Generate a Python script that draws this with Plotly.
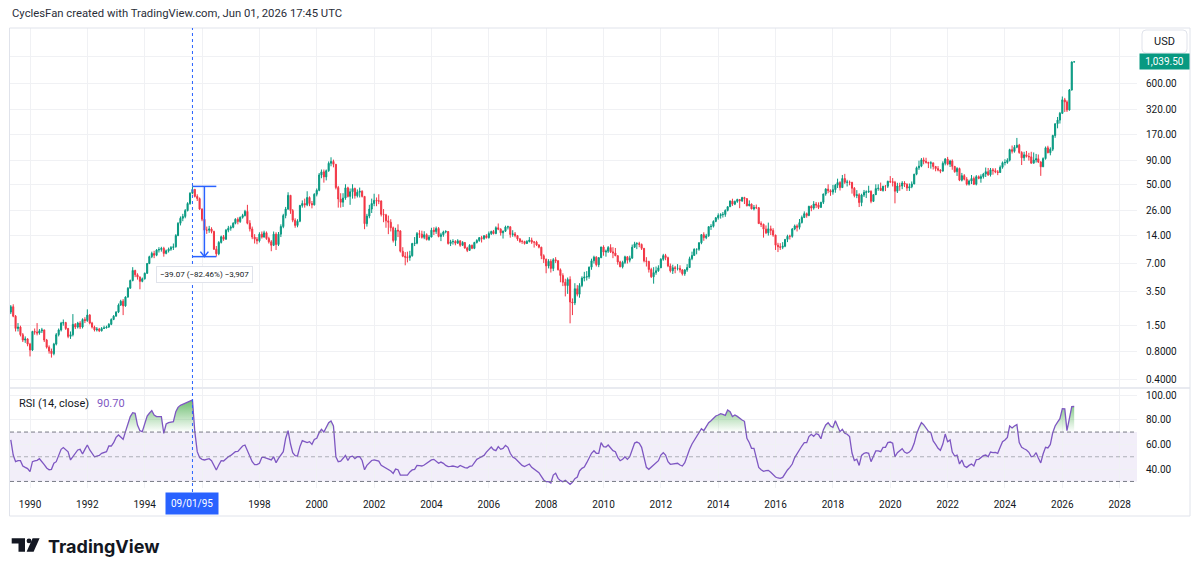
import numpy as np
import pandas as pd
import plotly.graph_objects as go

# ---------------- data (monthly, May 1989 .. Jun 2026) ----------------
start_month = "1989-05-01"
first_open = 2.1

close = [
    2.4, 1.9, 1.4, 1.45, 1.2, 1.05, 1.08, 0.95,
    0.82, 1.3, 1.28, 1.25, 1.32, 1.35, 1.05, 0.88, 0.8, 0.75, 0.95, 1.2,
    1.35, 1.6, 1.62, 1.4, 1.15, 1.2, 1.55, 1.45, 1.6, 1.45, 1.75, 1.7,
    1.95, 1.6, 1.45, 1.35, 1.38, 1.32, 1.4, 1.42, 1.45, 1.55, 1.75, 1.9,
    2.1, 2.5, 2.75, 2.45, 3.05, 3.8, 4.6, 5.9, 5.3, 5.0, 4.5, 4.8,
    5.5, 7.0, 8.3, 9.0, 8.6, 9.8, 9.9, 10.2, 9.0, 9.6, 10.0, 10.4,
    10.6, 14.0, 19.0, 21.5, 22.5, 26.0, 31.0, 40.0, 44.0, 37.0, 35.0, 27.0,
    21.0, 16.0, 16.0, 16.5, 15.5, 10.0, 8.9, 11.8, 13.6, 12.8, 16.0, 16.8,
    17.2, 19.0, 21.0, 19.8, 22.0, 23.0, 25.5, 19.0, 16.5, 13.5, 12.8, 12.3,
    14.5, 13.5, 15.0, 13.0, 12.0, 11.0, 14.5, 11.2, 14.5, 17.5, 23.0, 27.0,
    38.0, 26.0, 20.5, 18.0, 20.0, 29.5, 31.0, 30.0, 36.0, 31.0, 30.0, 39.0,
    43.0, 63.0, 68.0, 60.0, 70.0, 84.0, 88.0, 82.0, 46.0, 34.7, 32.0, 35.5,
    45.7, 37.0, 41.5, 45.0, 37.6, 41.0, 42.0, 37.0, 18.8, 22.7, 27.0, 31.0,
    33.5, 33.0, 33.0, 23.7, 23.4, 20.2, 19.5, 17.0, 12.4, 16.0, 15.7, 9.5,
    8.4, 8.2, 8.1, 8.5, 11.5, 11.6, 14.7, 14.5, 13.4, 14.3, 12.7, 13.5,
    16.0, 15.5, 16.7, 13.7, 14.3, 15.3, 15.5, 11.5, 12.0, 12.1, 11.6, 12.3,
    11.0, 11.8, 10.3, 9.7, 11.0, 10.2, 11.8, 12.4, 13.3, 13.0, 13.9, 13.3,
    14.7, 15.5, 14.7, 17.0, 16.4, 15.0, 15.6, 17.3, 17.4, 14.4, 14.6, 14.0,
    12.9, 12.1, 12.1, 11.5, 12.1, 12.5, 11.9, 11.9, 11.1, 10.5, 8.5, 7.8,
    6.6, 7.4, 6.2, 7.7, 7.5, 6.0, 5.2, 4.4, 4.05, 4.72, 2.7, 2.64,
    3.75, 3.27, 4.06, 4.88, 5.0, 5.06, 6.4, 7.5, 8.2, 6.8, 8.1, 10.56,
    9.3, 9.5, 10.4, 9.35, 9.1, 8.5, 7.28, 6.45, 7.2, 8.27, 7.6, 8.0,
    10.5, 11.4, 11.47, 11.25, 10.2, 7.48, 7.37, 6.04, 5.04, 5.59, 5.85, 6.29,
    7.78, 8.53, 8.1, 6.6, 5.84, 6.31, 6.2, 6.22, 5.98, 5.43, 5.97, 6.34,
    7.9, 8.55, 9.98, 9.98, 11.7, 14.33, 13.3, 13.9, 17.47, 17.6, 19.9, 21.75,
    23.03, 23.5, 23.66, 26.12, 28.6, 32.95, 30.52, 32.6, 34.26, 33.06, 35.94, 35.01,
    29.3, 30.5, 27.13, 28.13, 27.94, 18.84, 18.51, 16.41, 14.98, 16.56, 15.92, 14.16,
    11.03, 10.63, 10.47, 10.75, 12.74, 13.76, 13.75, 16.47, 17.78, 17.16, 19.31, 21.92,
    24.11, 23.06, 28.9, 27.67, 30.62, 29.86, 28.12, 31.98, 39.33, 44.31, 42.63, 41.12,
    43.72, 48.82, 52.14, 45.98, 57.59, 52.44, 52.79, 52.39, 45.23, 37.72, 38.53, 31.73,
    38.22, 40.91, 41.33, 42.02, 32.69, 38.59, 44.89, 45.27, 42.85, 47.55, 47.51, 53.78,
    53.09, 52.48, 42.06, 47.89, 47.87, 51.52, 50.06, 45.52, 46.96, 50.34, 64.11, 75.18,
    78.28, 91.47, 88.21, 86.07, 84.1, 84.98, 77.57, 73.66, 70.98, 69.1, 84.0, 93.15,
    82.25, 88.83, 77.89, 68.19, 73.84, 55.28, 61.86, 56.53, 50.1, 54.11, 57.65, 49.98,
    60.3, 57.8, 60.34, 64.36, 68.22, 63.11, 71.39, 69.96, 68.03, 66.87, 76.14, 85.34,
    85.74, 90.62, 117.89, 112.98, 125.0, 131.53, 109.71, 96.16, 103.71, 99.68, 98.62, 84.16,
    91.25, 93.92, 86.89, 76.95, 94.46, 123.25, 109.14, 119.02, 167.32, 223.77, 245.0, 290.0,
    405.0, 385.0, 315.0, 517.0, 1035.0, 1039.5,
]

high = [
    2.5, 2.55, 1.95, 1.6, 1.5, 1.25, 1.15, 1.1,
    0.98, 1.32, 1.4, 1.6, 1.38, 1.42, 1.36, 1.08, 0.92, 0.85, 0.98, 1.25,
    1.4, 1.65, 1.75, 1.65, 1.42, 1.3, 2.0, 1.6, 1.65, 1.68, 1.8, 1.85,
    2.25, 2.0, 1.65, 1.5, 1.45, 1.42, 1.45, 1.5, 1.5, 1.6, 1.8, 1.95,
    2.15, 2.6, 2.85, 2.9, 3.1, 3.9, 4.7, 6.4, 6.0, 5.5, 5.1, 4.95,
    5.6, 7.1, 8.5, 9.4, 9.6, 10.0, 10.5, 10.6, 10.6, 9.9, 10.4, 10.8,
    11.5, 14.5, 19.5, 22.5, 24.0, 27.0, 32.0, 41.0, 47.38, 44.5, 39.0, 36.0,
    27.5, 22.0, 17.5, 17.8, 17.2, 15.8, 10.8, 12.2, 14.0, 14.2, 16.5, 17.8,
    18.0, 19.5, 21.5, 22.0, 22.5, 24.0, 26.5, 30.0, 20.5, 17.5, 14.5, 13.5,
    15.2, 15.5, 15.8, 15.5, 13.6, 12.5, 15.5, 15.2, 15.3, 18.5, 24.0, 28.5,
    41.0, 38.0, 27.0, 21.5, 21.0, 30.0, 33.5, 35.0, 42.0, 37.0, 33.0, 40.0,
    45.0, 66.0, 72.0, 72.0, 72.0, 88.0, 97.5, 92.0, 82.0, 48.0, 40.0, 40.0,
    50.0, 47.0, 45.0, 50.0, 46.0, 44.0, 46.0, 43.0, 37.0, 24.0, 30.0, 35.0,
    39.5, 36.0, 39.0, 33.5, 27.0, 24.0, 23.0, 21.0, 17.5, 17.0, 18.5, 16.0,
    10.5, 9.3, 9.4, 9.6, 11.7, 13.5, 15.3, 16.0, 15.8, 15.6, 14.8, 14.2,
    17.0, 17.2, 17.5, 17.3, 15.0, 15.8, 16.0, 15.6, 12.6, 12.8, 12.5, 12.8,
    12.4, 12.2, 11.9, 10.6, 11.3, 11.2, 12.0, 12.8, 13.5, 13.9, 14.2, 14.5,
    15.5, 15.8, 16.1, 17.6, 18.9, 16.8, 15.9, 17.9, 17.9, 17.6, 16.0, 15.3,
    14.0, 13.2, 12.6, 12.3, 12.5, 13.5, 13.3, 12.2, 12.3, 11.3, 10.6, 8.8,
    7.9, 7.8, 7.8, 8.0, 8.2, 7.6, 6.2, 5.5, 4.8, 4.95, 5.1, 2.95,
    4.3, 4.1, 4.3, 5.1, 5.7, 5.8, 6.5, 7.9, 8.5, 8.4, 8.2, 10.6,
    11.0, 9.9, 10.8, 11.3, 10.5, 10.3, 8.6, 7.5, 7.5, 8.5, 8.4, 8.5,
    11.2, 12.0, 11.9, 12.0, 11.5, 10.3, 8.2, 7.5, 6.3, 6.4, 6.5, 6.7,
    8.0, 8.9, 8.9, 8.3, 7.0, 6.8, 6.6, 6.9, 6.7, 6.1, 6.1, 6.9,
    8.3, 9.4, 10.2, 10.1, 11.9, 14.5, 15.2, 14.6, 17.6, 18.6, 20.4, 22.2,
    24.3, 24.4, 25.1, 26.8, 28.9, 33.4, 34.9, 33.4, 34.9, 34.6, 36.6, 36.6,
    35.2, 33.5, 31.0, 29.9, 30.2, 28.4, 19.9, 18.8, 18.0, 19.3, 17.9, 16.8,
    14.3, 11.7, 11.6, 11.9, 12.8, 14.3, 14.3, 16.9, 18.4, 18.5, 21.1, 23.0,
    25.5, 24.8, 29.3, 29.8, 32.9, 32.2, 31.9, 32.3, 39.4, 45.3, 49.9, 44.0,
    49.3, 50.4, 57.4, 53.9, 62.9, 64.66, 55.8, 54.8, 53.0, 46.6, 43.2, 40.0,
    39.5, 43.4, 42.9, 48.2, 42.9, 39.0, 49.9, 49.9, 52.1, 48.1, 48.9, 54.5,
    61.2, 58.3, 54.3, 51.8, 51.9, 54.0, 53.9, 51.0, 50.9, 53.6, 64.7, 77.5,
    89.7, 95.7, 96.96, 96.4, 87.0, 88.5, 85.0, 78.7, 78.4, 72.5, 88.2, 95.7,
    98.45, 91.6, 92.5, 78.2, 76.4, 75.5, 66.2, 64.2, 59.6, 56.0, 62.8, 60.5,
    62.7, 62.2, 63.8, 66.3, 75.6, 74.8, 74.8, 74.7, 74.3, 71.0, 79.6, 87.9,
    92.8, 95.2, 120.5, 130.5, 131.9, 157.54, 136.0, 113.4, 111.7, 114.0, 108.9, 111.8,
    109.9, 106.0, 104.5, 88.5, 97.3, 127.3, 129.8, 124.8, 170.4, 226.0, 265.0, 300.0,
    440.0, 425.0, 400.0, 530.0, 1050.0, 1045.0,
]

low = [
    2.0, 1.85, 1.3, 1.3, 1.15, 1.0, 0.98, 0.9,
    0.7, 0.8, 1.2, 1.18, 1.2, 1.25, 1.0, 0.85, 0.75, 0.68, 0.72, 0.92,
    1.15, 1.3, 1.5, 1.35, 1.1, 1.08, 1.15, 1.38, 1.4, 1.38, 1.4, 1.6,
    1.65, 1.55, 1.4, 1.3, 1.3, 1.28, 1.3, 1.38, 1.4, 1.42, 1.52, 1.72,
    1.88, 2.05, 2.45, 1.95, 2.4, 3.0, 3.75, 4.5, 5.0, 4.7, 3.7, 4.4,
    4.7, 5.4, 6.9, 8.0, 8.0, 8.4, 9.2, 9.4, 8.3, 8.8, 9.2, 9.6,
    9.8, 10.4, 13.8, 18.0, 20.0, 21.5, 25.5, 30.0, 39.0, 36.0, 33.0, 26.5,
    20.0, 15.5, 14.6, 15.0, 14.8, 9.8, 8.31, 8.6, 11.5, 12.3, 12.6, 15.2,
    15.8, 16.8, 18.5, 18.5, 19.2, 21.3, 22.5, 18.5, 15.5, 12.8, 11.5, 11.3,
    11.8, 13.0, 13.3, 12.6, 11.5, 9.5, 10.8, 9.8, 10.8, 13.5, 16.8, 21.5,
    26.5, 24.0, 19.5, 17.0, 17.2, 19.5, 28.0, 28.0, 29.0, 29.0, 27.5, 29.5,
    37.0, 42.0, 58.0, 52.0, 55.0, 68.0, 78.0, 76.0, 44.0, 28.0, 28.0, 28.5,
    34.0, 36.0, 30.0, 35.0, 35.0, 36.0, 36.0, 36.0, 16.4, 17.5, 21.5, 24.5,
    29.0, 29.0, 30.5, 22.5, 19.5, 17.0, 14.5, 15.5, 11.8, 10.8, 13.5, 9.2,
    8.2, 6.7, 7.2, 7.5, 8.3, 10.8, 11.3, 13.2, 13.0, 12.8, 12.4, 12.3,
    13.4, 14.2, 14.6, 13.4, 12.2, 13.6, 14.8, 11.2, 10.8, 11.2, 11.0, 11.4,
    10.6, 10.8, 10.1, 9.3, 9.6, 10.0, 10.0, 11.5, 12.0, 11.8, 12.6, 13.0,
    13.0, 14.2, 14.4, 14.5, 16.0, 14.0, 13.0, 15.3, 16.3, 13.3, 13.6, 13.4,
    12.3, 11.7, 11.4, 11.2, 11.4, 11.8, 11.4, 10.4, 10.8, 10.2, 7.8, 7.1,
    5.5, 6.2, 5.6, 5.8, 7.1, 5.9, 4.4, 4.0, 3.1, 3.3, 1.59, 1.95,
    2.5, 3.1, 3.0, 3.9, 4.5, 4.6, 4.8, 6.0, 7.0, 6.5, 6.4, 8.0,
    8.5, 8.3, 9.1, 9.1, 8.0, 8.4, 6.8, 6.4, 6.2, 6.9, 7.0, 7.2,
    7.9, 10.3, 10.0, 10.5, 9.8, 7.2, 6.5, 5.6, 4.9, 4.25, 5.3, 5.7,
    6.3, 7.5, 7.6, 6.4, 5.6, 5.4, 5.5, 5.9, 5.6, 5.2, 5.16, 5.7,
    6.3, 7.6, 8.6, 8.8, 9.6, 11.3, 12.3, 12.8, 13.6, 16.1, 17.1, 19.5,
    20.8, 21.3, 21.9, 22.3, 25.5, 28.6, 29.2, 29.8, 31.5, 27.6, 32.3, 30.6,
    28.9, 29.0, 26.9, 26.1, 27.0, 18.7, 17.3, 13.3, 14.5, 14.0, 14.2, 13.6,
    9.8, 9.3, 9.8, 10.0, 10.5, 11.9, 12.7, 13.3, 16.0, 15.5, 16.3, 18.9,
    21.6, 21.8, 22.6, 25.6, 26.6, 27.7, 27.0, 28.6, 30.6, 37.6, 40.0, 37.5,
    38.6, 40.5, 45.5, 42.8, 45.6, 50.4, 47.3, 48.7, 39.6, 36.1, 35.4, 28.4,
    29.0, 36.5, 35.5, 40.3, 31.2, 32.2, 38.3, 42.5, 42.3, 41.6, 42.2, 45.5,
    51.5, 47.3, 31.13, 40.2, 42.5, 44.2, 46.6, 42.3, 42.3, 45.3, 50.0, 62.5,
    71.4, 76.3, 81.9, 83.5, 74.6, 73.6, 72.0, 68.9, 68.9, 65.7, 69.0, 79.8,
    79.9, 76.6, 71.6, 66.5, 61.4, 54.0, 53.6, 55.0, 48.45, 48.4, 50.2, 49.0,
    48.6, 56.6, 51.9, 57.5, 59.8, 61.5, 60.5, 63.3, 65.7, 62.6, 66.7, 73.5,
    79.8, 82.9, 88.0, 107.1, 109.3, 122.1, 106.4, 80.5, 89.1, 96.9, 89.7, 83.5,
    84.2, 85.6, 84.5, 61.54, 79.0, 92.0, 107.7, 102.4, 113.7, 157.9, 200.0, 225.0,
    285.0, 300.0, 300.0, 310.0, 510.0, 1030.0,
]

rsi = [
    63.6, 51.4, 46.0, 46.8, 46.8, 42.5, 41.4, 40.4,
    37.9, 46.0, 46.6, 47.1, 48.4, 46.3, 43.6, 40.9, 39.5, 39.8, 44.7, 46.0,
    51.4, 56.0, 57.4, 56.0, 54.0, 47.4, 50.0, 52.8, 55.5, 56.0, 52.2, 56.0,
    59.5, 55.5, 52.8, 50.0, 50.6, 51.1, 52.8, 53.3, 54.1, 58.7, 58.7, 61.4,
    65.7, 67.6, 65.7, 64.1, 70.3, 77.0, 82.5, 85.7, 85.2, 75.7, 71.1, 70.3,
    77.0, 83.0, 85.2, 87.3, 83.8, 82.5, 82.5, 82.5, 69.0, 76.5, 77.6, 78.1,
    78.4, 86.5, 90.0, 91.6, 92.4, 93.3, 94.3, 95.4, 96.0, 70.3, 54.1, 49.3,
    47.9, 47.4, 47.9, 48.4, 46.8, 42.5, 39.3, 43.3, 46.8, 46.6, 48.4, 50.0,
    51.1, 52.8, 54.1, 54.4, 56.5, 58.7, 59.5, 54.9, 50.6, 46.0, 43.6, 43.6,
    44.7, 49.5, 49.5, 48.7, 47.9, 47.4, 50.0, 45.2, 48.7, 51.4, 54.1, 64.9,
    71.1, 60.3, 53.3, 50.9, 50.6, 58.2, 63.0, 62.2, 61.4, 62.2, 60.0, 64.0,
    64.9, 69.5, 72.2, 70.0, 73.5, 77.5, 79.0, 75.0, 50.0, 46.0, 46.5, 49.0,
    51.0, 47.0, 50.0, 50.5, 48.5, 50.0, 50.0, 47.0, 39.5, 43.0, 45.0, 47.0,
    47.5, 47.0, 46.5, 43.0, 42.0, 40.5, 40.0, 38.5, 36.5, 40.0, 39.5, 35.2,
    35.2, 35.2, 35.2, 37.7, 39.3, 39.8, 43.0, 42.8, 42.5, 43.3, 44.7, 46.0,
    47.4, 47.9, 46.3, 44.7, 45.7, 44.7, 43.0, 42.0, 42.2, 42.5, 42.0, 41.4,
    43.0, 41.7, 41.2, 40.9, 42.2, 42.5, 45.5, 47.9, 49.0, 50.0, 51.1, 53.8,
    56.0, 57.9, 55.7, 54.9, 58.2, 56.0, 56.8, 59.2, 57.6, 52.8, 49.8, 48.7,
    46.8, 44.9, 43.0, 42.0, 43.3, 44.1, 41.4, 39.8, 38.5, 37.1, 34.1, 31.2,
    29.8, 29.8, 28.7, 35.2, 36.6, 32.5, 30.6, 29.8, 30.9, 29.0, 27.7, 29.3,
    32.3, 33.6, 38.5, 40.6, 41.7, 45.2, 49.5, 52.8, 54.9, 52.8, 52.8, 61.4,
    58.2, 57.9, 59.5, 56.8, 54.9, 54.1, 49.5, 46.8, 47.9, 50.0, 47.9, 50.0,
    56.3, 61.1, 61.9, 60.9, 57.6, 48.7, 41.4, 39.8, 41.4, 43.3, 44.7, 46.8,
    51.4, 53.3, 51.4, 46.0, 43.9, 44.1, 44.7, 44.7, 43.3, 42.5, 45.2, 51.4,
    56.0, 60.3, 63.0, 66.3, 69.5, 72.7, 71.1, 74.4, 77.6, 79.2, 81.4, 83.0,
    83.8, 84.9, 84.3, 83.5, 87.9, 86.5, 82.5, 83.8, 82.7, 81.1, 79.8, 78.7,
    64.9, 61.4, 56.8, 56.8, 50.0, 41.4, 39.5, 38.2, 38.7, 39.0, 37.4, 35.5,
    33.6, 32.8, 32.5, 33.3, 36.6, 39.3, 41.4, 44.1, 49.3, 52.8, 56.0, 58.7,
    61.4, 61.4, 66.3, 68.2, 66.5, 68.7, 67.9, 64.6, 71.7, 75.7, 77.6, 74.9,
    73.8, 79.2, 74.9, 70.3, 72.2, 69.0, 68.2, 66.3, 53.0, 47.0, 48.0, 43.0,
    51.1, 52.8, 53.3, 52.8, 46.0, 51.1, 54.7, 54.7, 54.1, 57.6, 57.6, 61.4,
    61.9, 60.9, 50.0, 53.3, 54.9, 56.5, 53.8, 52.8, 53.8, 56.0, 60.9, 68.4,
    73.5, 77.6, 76.0, 73.3, 70.6, 69.5, 62.8, 60.0, 56.8, 55.2, 60.3, 68.4,
    62.2, 63.6, 53.8, 50.6, 51.4, 44.1, 47.4, 42.5, 41.4, 43.0, 44.1, 42.5,
    47.6, 47.9, 49.3, 50.9, 51.4, 50.0, 53.8, 53.3, 53.6, 52.8, 57.6, 62.2,
    63.6, 65.7, 74.9, 73.3, 74.9, 76.0, 61.4, 57.6, 56.5, 55.5, 53.6, 50.0,
    50.6, 53.3, 49.0, 45.0, 52.2, 57.6, 57.1, 60.0, 69.5, 74.9, 78.1, 80.8,
    88.9, 88.7, 71.1, 82.5, 90.6, 90.7,
]

# crosshair + measurement tool
crosshair_date = "1995-09-01"
crosshair_label = "09/01/95"
measure_start = "1995-09-01"
measure_end = "1996-07-01"
measure_high = 47.38
measure_low = 8.31

# axis ticks
year_ticks = list(range(1990, 2029, 2))
hidden_year = 1996
price_ticks = [0.4, 0.8, 1.5, 3.5, 7, 14, 26, 50, 90, 170, 320, 600, 1200]
price_tick_text = ["0.4000", "0.8000", "1.50", "3.50", "7.00", "14.00", "26.00",
                   "50.00", "90.00", "170.00", "320.00", "600.00", ""]
rsi_ticks = [40, 60, 80, 100]
rsi_upper, rsi_mid, rsi_lower = 70, 50, 30

title_text = "CyclesFan created with TradingView.com, Jun 01, 2026 17:45 UTC"

# ---------------- geometry helpers ----------------
W, H = 1200, 574
def px(x):
    return x / W
def py(y):
    return 1 - y / H

n = min(len(close), len(high), len(low), len(rsi))
close = close[:n]; high = high[:n]; low = low[:n]; rsi = rsi[:n]
dates = pd.date_range(start_month, periods=n, freq="MS")
opens = [first_open] + close[:-1]
hi_plot = np.maximum(np.maximum(high, opens), close)
lo_plot = np.minimum(np.minimum(low, opens), close)

UP = "#089981"
DN = "#F23645"
PURPLE = "#7E57C2"
BLUE = "#2962FF"
TXT = "#131722"
GRID = "#F0F1F4"
BORDER = "#E0E3EB"
FONT = "Roboto"

X0, X1 = 10, 1137
MAIN_TOP, MAIN_BOT = 28, 387
RSI_TOP, RSI_BOT = 389, 488

fig = go.Figure()

fig.add_trace(go.Candlestick(
    x=dates, open=opens, high=hi_plot, low=lo_plot, close=close,
    increasing=dict(line=dict(color=UP, width=1), fillcolor=UP),
    decreasing=dict(line=dict(color=DN, width=1), fillcolor=DN),
    whiskerwidth=0, xaxis="x", yaxis="y", showlegend=False, hoverinfo="skip",
))

# --- RSI fills (overbought / oversold) ---
def clipped(vals, level, above=True):
    xs, ys = [], []
    for i in range(len(vals)):
        v = vals[i]
        if i > 0:
            v0 = vals[i - 1]
            if (v0 - level) * (v - level) < 0:
                f = (level - v0) / (v - v0)
                xs.append(dates[i - 1] + (dates[i] - dates[i - 1]) * f)
                ys.append(level)
        xs.append(dates[i])
        ys.append(max(v, level) if above else min(v, level))
    return xs, ys

for level, above, cs, s0, s1 in [
    (rsi_upper, True, [[0, "rgba(76,175,80,0)"], [1, "rgba(76,175,80,0.95)"]], rsi_upper, 100),
    (rsi_lower, False, [[0, "rgba(242,54,69,0.95)"], [1, "rgba(242,54,69,0)"]], 0, rsi_lower),
]:
    xs, ys = clipped(rsi, level, above)
    fig.add_trace(go.Scatter(x=xs, y=[level] * len(xs), mode="lines",
                             line=dict(width=0, color="rgba(0,0,0,0)"),
                             xaxis="x2", yaxis="y2", showlegend=False, hoverinfo="skip"))
    fig.add_trace(go.Scatter(x=xs, y=ys, mode="lines", fill="tonexty",
                             fillgradient=dict(type="vertical", colorscale=cs, start=s0, stop=s1),
                             line=dict(width=0, color="rgba(0,0,0,0)"),
                             xaxis="x2", yaxis="y2", showlegend=False, hoverinfo="skip"))

fig.add_trace(go.Scatter(x=dates, y=rsi, mode="lines",
                         line=dict(color=PURPLE, width=1.3),
                         xaxis="x2", yaxis="y2", showlegend=False, hoverinfo="skip"))

# ---------------- axes ----------------
tickvals_x = [f"{y}-01-01" for y in year_ticks]
ticktext_x = [("" if y == hidden_year else str(y)) for y in year_ticks]
x_range = ["1989-04-21", "2028-08-09"]

log_lo = np.log10(price_ticks[0]) - (MAIN_BOT - 379) / 92.9
log_hi = np.log10(600) + (84 - MAIN_TOP) / 92.9
rsi_lo = 100 - (RSI_BOT - 395) / 1.235
rsi_hi = 100 + (395 - RSI_TOP) / 1.235

common_x = dict(type="date", range=x_range, tickvals=tickvals_x, showgrid=True,
                gridcolor=GRID, gridwidth=1, zeroline=False, showline=False,
                ticks="", fixedrange=True)

fig.update_layout(
    width=W, height=H, margin=dict(l=0, r=0, t=0, b=0),
    paper_bgcolor="white", plot_bgcolor="white",
    font=dict(family=FONT, color=TXT),
    showlegend=False,
    xaxis=dict(domain=[px(X0), px(X1)], anchor="y", showticklabels=False,
               rangeslider=dict(visible=False), **common_x),
    yaxis=dict(domain=[py(MAIN_BOT), py(MAIN_TOP)], anchor="x", type="log",
               range=[log_lo, log_hi], side="right", tickvals=price_ticks,
               ticktext=price_tick_text, showgrid=True, gridcolor=GRID,
               zeroline=False, showline=False, ticks="", ticklabelstandoff=8,
               tickfont=dict(size=10, color=TXT, family=FONT), fixedrange=True),
    xaxis2=dict(domain=[px(X0), px(X1)], anchor="y2", matches="x",
                ticktext=ticktext_x, showticklabels=True, ticklabelstandoff=9,
                tickfont=dict(size=10, color=TXT, family=FONT), **common_x),
    yaxis2=dict(domain=[py(RSI_BOT), py(RSI_TOP)], anchor="x2",
                range=[rsi_lo, rsi_hi], side="right", tickvals=rsi_ticks,
                ticktext=[f"{v:.2f}" for v in rsi_ticks], showgrid=True,
                gridcolor=GRID, zeroline=False, showline=False, ticks="",
                ticklabelstandoff=8, tickfont=dict(size=10, color=TXT, family=FONT),
                fixedrange=True),
)

shapes = []
# RSI band
shapes.append(dict(type="rect", xref="paper", x0=px(X0), x1=px(X1), yref="y2",
                   y0=rsi_lower, y1=rsi_upper, fillcolor="rgba(126,87,194,0.1)",
                   line=dict(width=0), layer="below"))
for lv, col in [(rsi_upper, "#787B86"), (rsi_mid, "rgba(120,123,134,0.55)"), (rsi_lower, "#787B86")]:
    shapes.append(dict(type="line", xref="paper", x0=px(X0), x1=px(X1), yref="y2",
                       y0=lv, y1=lv, line=dict(color=col, width=1, dash="4px,3px")))
# outer border and pane separator
shapes.append(dict(type="rect", xref="paper", yref="paper", x0=px(9.5), x1=px(1190),
                   y0=py(516), y1=py(28), line=dict(color=BORDER, width=1)))
shapes.append(dict(type="line", xref="paper", yref="paper", x0=px(9.5), x1=px(1190),
                   y0=py(388), y1=py(388), line=dict(color=BORDER, width=1.5)))
# crosshair vertical dotted line
shapes.append(dict(type="line", xref="x", x0=crosshair_date, x1=crosshair_date,
                   yref="paper", y0=py(492), y1=py(28),
                   line=dict(color=BLUE, width=1, dash="dot")))
# measurement tool (shapes on a log axis take raw data values)
mid_date = pd.Timestamp(measure_start) + (pd.Timestamp(measure_end) - pd.Timestamp(measure_start)) / 2
for yv in (measure_high, measure_low):
    shapes.append(dict(type="line", xref="x", x0=measure_start, x1=measure_end,
                       yref="y", y0=yv, y1=yv, line=dict(color=BLUE, width=1.5)))
shapes.append(dict(type="line", xref="x", x0=mid_date, x1=mid_date, yref="y",
                   y0=measure_high, y1=measure_low, line=dict(color=BLUE, width=1.5)))
shapes.append(dict(type="path", xref="x", yref="y", xsizemode="pixel", ysizemode="pixel",
                   xanchor=mid_date, yanchor=measure_low, path="M -4,5 L 0,0 L 4,5",
                   line=dict(color=BLUE, width=1.5)))

# USD box (rounded)
def rrect(x0, y0, x1, y1, r):
    p = (f"M {px(x0+r)},{py(y0)} L {px(x1-r)},{py(y0)} Q {px(x1)},{py(y0)} {px(x1)},{py(y0+r)} "
         f"L {px(x1)},{py(y1-r)} Q {px(x1)},{py(y1)} {px(x1-r)},{py(y1)} "
         f"L {px(x0+r)},{py(y1)} Q {px(x0)},{py(y1)} {px(x0)},{py(y1-r)} "
         f"L {px(x0)},{py(y0+r)} Q {px(x0)},{py(y0)} {px(x0+r)},{py(y0)} Z")
    return p
shapes.append(dict(type="path", xref="paper", yref="paper", path=rrect(1142, 30, 1187, 53, 4),
                   line=dict(color=BORDER, width=1), fillcolor="white"))

# TradingView logo mark
def poly(pts):
    return "M " + " L ".join(f"{px(a)},{py(b)}" for a, b in pts) + " Z"
shapes.append(dict(type="path", xref="paper", yref="paper",
                   path=poly([(11.7, 538.3), (25, 538.3), (25, 551.7), (18.5, 551.7), (18.5, 543.6), (11.7, 543.6)]),
                   fillcolor=TXT, line=dict(width=0)))
shapes.append(dict(type="circle", xref="paper", yref="paper", x0=px(26.6), x1=px(31.4),
                   y0=py(543.3), y1=py(538.5), fillcolor=TXT, line=dict(width=0)))
shapes.append(dict(type="path", xref="paper", yref="paper",
                   path=poly([(32.6, 538.3), (39.6, 538.3), (33.6, 551.7), (26.6, 551.7)]),
                   fillcolor=TXT, line=dict(width=0)))

fig.update_layout(shapes=shapes)

# ---------------- annotations ----------------
diff = measure_low - measure_high
pct = diff / measure_high * 100
ticks_n = int(round(diff * 100))
measure_text = f"\u2212{abs(diff):.2f} (\u2212{abs(pct):.2f}%) \u2212{abs(ticks_n):,}"

ann = []
ann.append(dict(xref="paper", yref="paper", x=px(10), y=py(13.5), xanchor="left", yanchor="middle",
                text=title_text, showarrow=False, font=dict(size=11.3, color="#2A2E39", family=FONT)))
ann.append(dict(xref="paper", yref="paper", x=px(1164.5), y=py(41.5), xanchor="center",
                yanchor="middle", text="USD", showarrow=False, font=dict(size=11, color=TXT, family=FONT)))
ann.append(dict(xref="paper", yref="y", x=px(1139), y=np.log10(close[-1]), xanchor="left",
                yanchor="middle", text=f"{close[-1]:,.2f}", showarrow=False, bgcolor=UP,
                borderpad=2, width=45, font=dict(size=10, color="white", family=FONT)))
ann.append(dict(xref="paper", yref="paper", x=px(17), y=py(403), xanchor="left", yanchor="middle",
                text="RSI (14, close)", showarrow=False, font=dict(size=11, color=TXT, family=FONT)))
ann.append(dict(xref="paper", yref="paper", x=px(95), y=py(403), xanchor="left", yanchor="middle",
                text=f"{rsi[-1]:.2f}", showarrow=False, font=dict(size=11, color=PURPLE, family=FONT)))
ann.append(dict(xref="x", yref="paper", x=crosshair_date, y=py(503), xanchor="center",
                yanchor="middle", text=crosshair_label, showarrow=False, bgcolor=BLUE,
                borderpad=5, font=dict(size=10, color="white", family=FONT)))
ann.append(dict(xref="x", yref="y", x=mid_date, y=np.log10(measure_low), yshift=-18, xanchor="center",
                yanchor="middle", text=measure_text, showarrow=False, bgcolor="white",
                bordercolor=BORDER, borderwidth=1, borderpad=3,
                font=dict(size=8, color=TXT, family=FONT)))
ann.append(dict(xref="paper", yref="paper", x=px(46), y=py(546), xanchor="left", yanchor="middle",
                text="<b>TradingView</b>", showarrow=False,
                font=dict(size=18, color=TXT, family="Inter")))
fig.update_layout(annotations=ann)

fig.write_html("out.html", config={"displayModeBar": False})
